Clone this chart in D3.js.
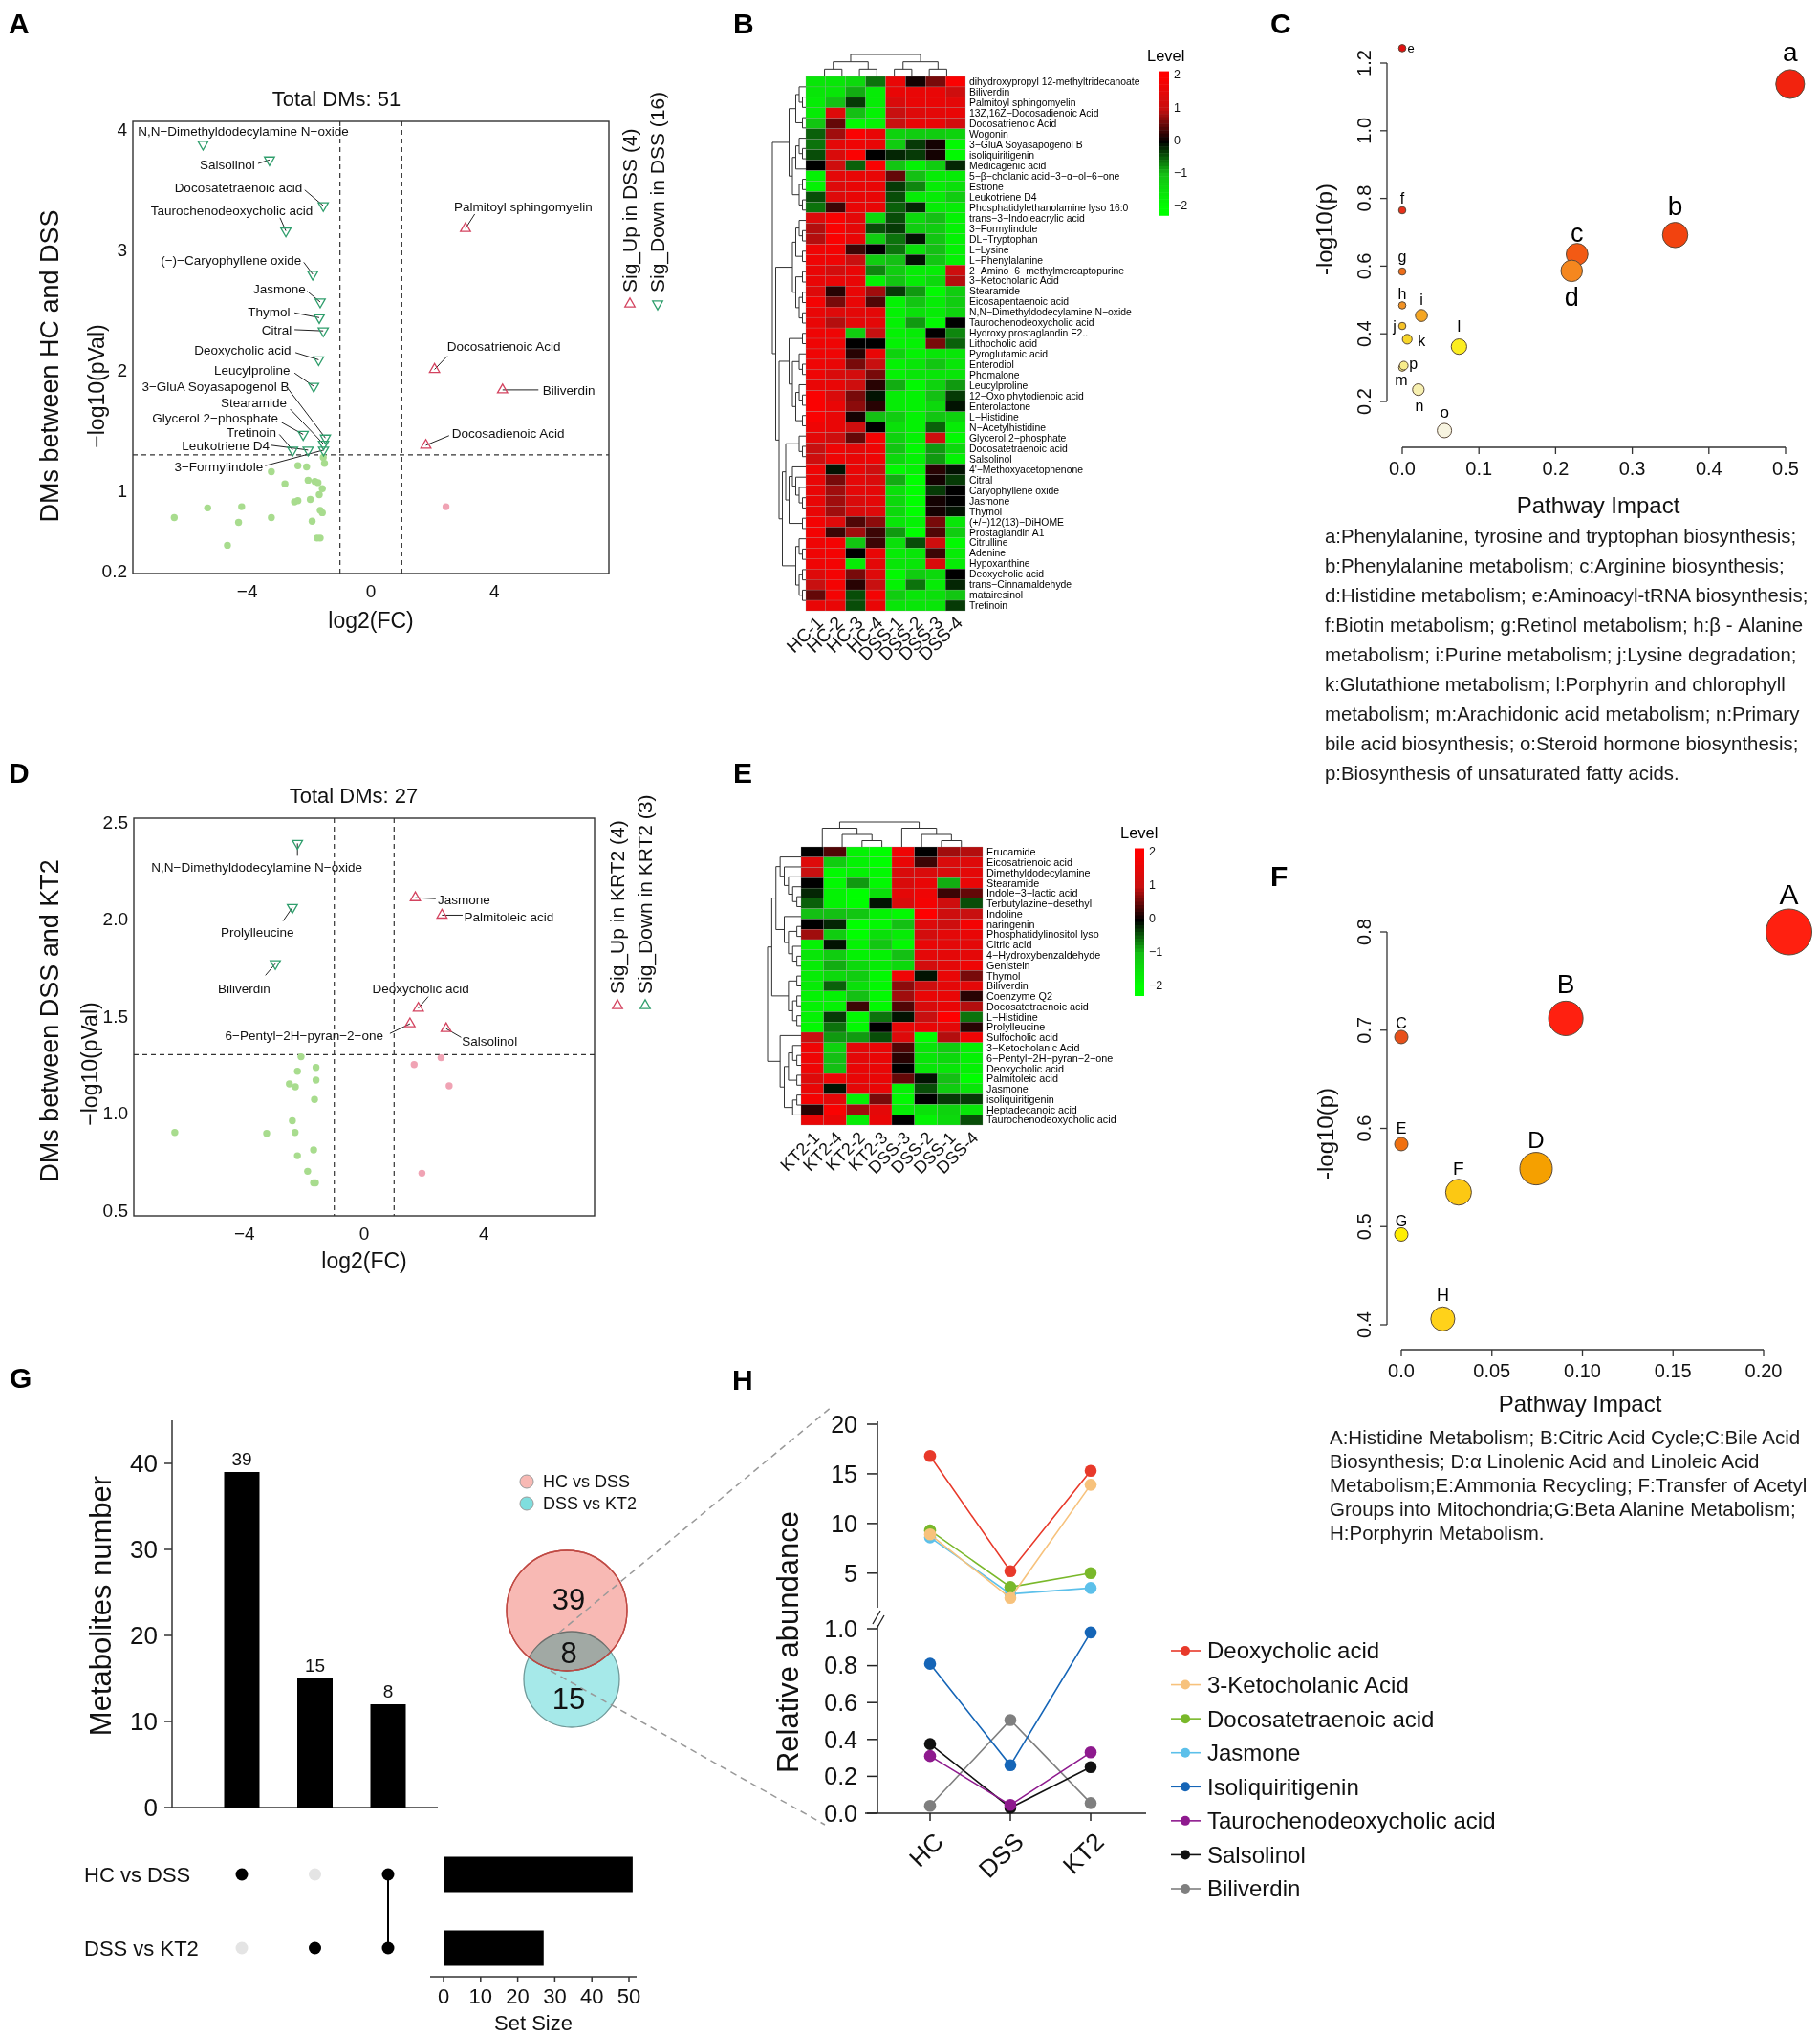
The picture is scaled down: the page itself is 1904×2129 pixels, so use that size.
<!DOCTYPE html>
<html><head><meta charset="utf-8">
<script src="https://cdn.jsdelivr.net/npm/d3@7"></script>
<style>body{margin:0;background:#fff}svg{display:block}text{font-family:Arial,"Liberation Sans",sans-serif}</style>
</head><body><svg id="fig" width="1904" height="2129"></svg>
<script>
// ================= DATA =================
// Panel A volcano (HC vs DSS)
const aDownNames = ["N,N−Dimethyldodecylamine N−oxide","Salsolinol","Docosatetraenoic acid","Taurochenodeoxycholic acid","(−)−Caryophyllene oxide","Jasmone","Thymol","Citral","Deoxycholic acid","Leucylproline","3−GluA Soyasapogenol B","Stearamide","Glycerol 2−phosphate","Tretinoin","Leukotriene D4","3−Formylindole"];
const aDownFC = [-5.43,-3.28,-1.54,-2.75,-1.88,-1.64,-1.67,-1.54,-1.69,-1.85,-1.47,-1.53,-2.19,-2.53,-2.03,-1.53];
const aDownP  = [3.88,3.75,3.37,3.16,2.80,2.57,2.44,2.33,2.09,1.87,1.44,1.39,1.47,1.34,1.34,1.34];
const aUpNames = ["Palmitoyl sphingomyelin","Docosatrienoic Acid","Biliverdin","Docosadienoic Acid"];
const aUpFC = [3.06,2.06,4.26,1.78];
const aUpP  = [3.18,2.01,1.84,1.38];
const aNsDownFC = [-1.54,-1.50,-2.36,-2.08,-3.22,-2.03,-1.81,-1.71,-1.57,-2.78,-1.67,-2.47,-2.36,-1.96,-5.28,-4.18,-6.36,-3.22,-1.64,-1.57,-4.28,-1.90,-4.64,-1.74,-1.64];
const aNsDownP  = [1.28,1.23,1.21,1.20,1.16,1.09,1.08,1.07,1.02,1.06,0.97,0.91,0.92,0.93,0.86,0.87,0.78,0.78,0.84,0.82,0.74,0.75,0.55,0.61,0.61];
const aNsUpFC = [2.43];
const aNsUpP  = [0.87];
const aYTicks = [0.34,1,2,3,4];
const aYTickLabels = ["0.2","1","2","3","4"];
// Panel D volcano (DSS vs KT2)
const dDownNames = ["N,N−Dimethyldodecylamine N−oxide","Prolylleucine","Biliverdin"];
const dDownFC = [-2.23,-2.40,-2.97];
const dDownP  = [2.39,2.06,1.77];
const dUpNames = ["Jasmone","Palmitoleic acid","Deoxycholic acid","6−Pentyl−2H−pyran−2−one","Salsolinol"];
const dUpFC = [1.71,2.60,1.81,1.53,2.74];
const dUpP  = [2.11,2.02,1.54,1.46,1.435];
const dNsDownFC = [-2.11,-1.61,-2.23,-1.61,-2.50,-2.30,-1.66,-2.40,-6.33,-3.26,-2.31,-1.69,-2.23,-1.89,-1.69,-1.63];
const dNsDownP  = [1.29,1.235,1.215,1.17,1.15,1.135,1.07,0.96,0.90,0.895,0.90,0.81,0.78,0.70,0.64,0.64];
const dNsUpFC = [1.67,2.57,2.84,1.93];
const dNsUpP  = [1.25,1.285,1.14,0.69];
const dYTicks = [0.5,1.0,1.5,2.0,2.5];
const dYTickLabels = ["0.5","1.0","1.5","2.0","2.5"];
const volcanoXTicks = [-4,0,4];
const fcCut = 1, pCut = 0.05;

// Panel B heatmap (HC vs DSS)
const bCols = ["HC-1","HC-2","HC-3","HC-4","DSS-1","DSS-2","DSS-3","DSS-4"];
const bRows = ["dihydroxypropyl 12-methyltridecanoate","Biliverdin","Palmitoyl sphingomyelin","13Z,16Z−Docosadienoic Acid","Docosatrienoic Acid","Wogonin","3−GluA Soyasapogenol B","isoliquiritigenin","Medicagenic acid","5−β−cholanic acid−3−α−ol−6−one","Estrone","Leukotriene D4","Phosphatidylethanolamine lyso 16:0","trans−3−Indoleacrylic acid","3−Formylindole","DL−Tryptophan","L−Lysine","L−Phenylalanine","2−Amino−6−methylmercaptopurine","3−Ketocholanic Acid","Stearamide","Eicosapentaenoic acid","N,N−Dimethyldodecylamine N−oxide","Taurochenodeoxycholic acid","Hydroxy prostaglandin F2..","Lithocholic acid","Pyroglutamic acid","Enterodiol","Phomalone","Leucylproline","12−Oxo phytodienoic acid","Enterolactone","L−Histidine","N−Acetylhistidine","Glycerol 2−phosphate","Docosatetraenoic acid","Salsolinol","4'−Methoxyacetophenone","Citral","Caryophyllene oxide","Jasmone","Thymol","(+/−)12(13)−DiHOME","Prostaglandin A1","Citrulline","Adenine","Hypoxanthine","Deoxycholic acid","trans−Cinnamaldehyde","matairesinol","Tretinoin"];
const bValues = [
[-1.6,-1.6,-1.4,-0.6,1.6,0.1,0.6,1.9],[-1.6,-1.6,-0.9,-1.7,1.6,1.6,1.6,1.1],[-1.7,-1.0,-0.3,-1.7,1.3,1.6,1.6,1.5],[-1.7,1.4,-1.0,-1.8,1.0,1.4,1.5,1.6],[-1.1,0.5,-1.9,-1.8,1.0,1.6,1.6,1.2],
[-0.5,0.8,1.9,1.6,-1.3,-1.2,-1.2,-1.3],[-0.6,1.5,1.7,1.6,-1.2,-0.3,0.1,-1.9],[-0.4,1.3,1.9,0.0,-0.2,-0.3,0.1,-1.9],[0.0,1.1,-0.5,1.9,-1.1,-1.8,-1.2,-0.2],[-1.8,1.5,1.6,1.6,0.5,-1.0,-1.7,-1.7],
[-1.8,1.4,1.6,1.6,-0.3,-0.7,-1.7,-1.5],[-0.4,1.4,1.6,1.6,-0.4,-1.7,-1.7,-1.2],[-0.6,0.3,1.6,1.6,-0.5,-0.2,-1.7,-1.7],[1.4,1.9,1.5,-1.4,-0.4,-1.4,-1.0,-1.8],[0.9,1.9,1.5,-0.4,-0.3,-1.2,-1.2,-1.8],
[0.9,1.9,1.6,-1.2,-0.6,-0.1,-1.1,-1.8],[1.7,1.8,0.3,0.0,-0.6,-1.5,-1.0,-1.8],[1.7,1.7,1.0,-1.2,-1.0,-0.1,-1.1,-1.8],[1.6,1.2,1.6,-0.7,-1.2,-1.7,-1.7,1.1],[1.6,1.6,1.6,-1.8,-1.1,-1.7,-1.4,0.9],
[1.4,0.2,1.6,0.8,-0.3,-0.8,-1.9,-1.2],[1.8,0.6,1.6,0.4,-1.8,-1.1,-1.7,-1.2],[1.6,1.4,1.5,1.5,-1.8,-1.5,-1.7,-1.3],[1.6,0.9,1.5,1.5,-1.8,-0.8,-1.9,0.0],[1.7,1.7,-1.2,1.0,-1.8,-1.7,0.0,-0.7],
[1.7,1.7,0.0,0.0,-1.8,-1.8,0.6,-0.5],[1.7,1.7,0.2,1.6,-1.3,-1.8,-1.6,-1.6],[1.7,1.6,0.6,1.0,-1.8,-1.6,-1.1,-1.6],[1.7,1.3,1.2,0.6,-1.8,-1.6,-1.6,-1.6],[1.6,1.6,1.1,0.2,-0.9,-1.9,-1.3,-0.8],
[1.9,1.3,0.6,-0.1,-1.7,-1.8,-1.0,-0.3],[1.9,1.6,0.7,0.2,-1.7,-1.8,-1.4,-0.1],[1.9,1.6,0.1,-1.0,-1.2,-1.8,-1.1,-1.3],[1.7,1.6,1.1,0.0,-1.5,-1.8,-0.5,-1.7],[1.5,1.1,0.5,1.8,-1.3,-1.8,1.1,-1.9],
[1.0,1.7,1.5,1.7,-1.1,-1.9,-0.8,-1.4],[1.1,1.7,1.6,1.7,-1.4,-1.8,-0.8,-1.8],[1.7,-0.1,1.6,1.1,-1.9,-1.8,0.2,-0.1],[1.6,0.6,1.5,1.3,-0.9,-2.0,0.1,-0.3],[1.6,0.8,1.5,1.5,-1.5,-2.0,-0.3,0.0],
[1.6,0.8,1.3,1.5,-1.4,-2.0,0.1,0.0],[1.6,0.8,1.3,1.4,-1.4,-2.0,0.1,-0.1],[1.8,1.4,0.4,0.7,-1.6,-1.8,0.6,-1.6],[1.8,0.3,0.8,0.3,-0.8,-2.0,0.4,-1.2],[1.7,1.8,-1.1,0.3,-1.5,-0.4,1.1,-1.9],
[1.7,1.8,0.0,1.6,-1.7,-1.6,0.3,-1.7],[1.7,1.8,-1.7,1.5,-1.6,-1.6,1.3,-1.7],[1.4,1.8,0.6,1.4,-1.9,-1.2,-1.4,0.0],[1.0,1.8,0.2,1.0,-1.8,-0.6,-1.7,-0.2],[0.5,1.8,-0.4,1.8,-1.2,-1.6,-1.5,-1.1],
[1.6,1.6,-0.4,1.6,-1.6,-1.6,-1.6,-0.3]];
const bRowTree = [[[[0,[1,2]],[3,4]],[[[5,[6,7]],8],[[9,10],[11,12]]]],[[[[13,[14,15]],[16,17]],[[18,19],[[20,21],[22,23]]]],[[[24,25],[[26,[27,28]],[[29,[30,31]],[32,33]]]],[[[34,[35,36]],[[37,[38,[39,[40,41]]]],[42,43]]],[[44,[45,46]],[[47,48],[49,50]]]]]]];
const bColTree = [[[0,1],[2,3]],[[4,5],[6,7]]];

// Panel E heatmap (DSS vs KT2)
const eCols = ["KT2-1","KT2-4","KT2-2","KT2-3","DSS-3","DSS-2","DSS-1","DSS-4"];
const eRows = ["Erucamide","Eicosatrienoic acid","Dimethyldodecylamine","Stearamide","Indole−3−lactic acid","Terbutylazine−desethyl","Indoline","naringenin","Phosphatidylinositol lyso","Citric acid","4−Hydroxybenzaldehyde","Genistein","Thymol","Biliverdin","Coenzyme Q2","Docosatetraenoic acid","L−Histidine","Prolylleucine","Sulfocholic acid","3−Ketocholanic Acid","6−Pentyl−2H−pyran−2−one","Deoxycholic acid","Palmitoleic acid","Jasmone","isoliquiritigenin","Heptadecanoic acid","Taurochenodeoxycholic acid"];
const eValues = [
[0.0,0.4,-1.8,-2.0,1.7,0.0,0.8,0.9],[1.4,-1.2,-1.8,-2.0,1.6,0.3,1.3,1.4],[1.0,-1.9,-1.8,-1.9,1.3,1.3,1.3,1.5],[0.0,-1.9,-0.8,-1.9,1.3,1.6,-0.9,1.6],[-0.2,-1.8,-2.0,-1.5,1.5,1.7,0.3,0.5],
[-0.5,-1.8,-2.0,-0.1,1.3,1.8,1.1,-0.4],[-1.0,-1.0,-1.1,-1.8,-1.9,2.0,1.1,1.0],[0.0,-0.2,-2.0,-1.9,-1.0,1.4,1.1,1.8],[0.8,-1.2,-2.0,-1.5,-1.7,1.2,1.5,1.6],[-1.8,-0.1,-1.8,-1.1,-1.9,1.6,1.5,1.5],
[-1.6,-1.2,-1.8,-1.8,-1.0,1.5,1.5,1.5],[-1.7,-0.9,-1.4,-1.7,-1.4,1.2,1.5,1.7],[-1.7,-1.4,-1.2,-1.9,1.7,-0.1,1.6,0.6],[-1.7,-0.5,-1.5,-1.9,0.7,1.1,1.5,1.5],[-1.8,-1.8,-1.0,-1.9,0.8,1.6,1.6,0.2],
[-1.8,-1.8,0.3,-1.9,0.4,1.3,1.6,0.9],[-1.8,-0.3,-1.9,-0.6,-0.1,1.0,2.0,-0.6],[-1.9,-0.6,-1.9,0.0,1.6,1.6,1.5,0.2],[1.0,-0.8,-0.8,-0.4,1.4,-2.0,0.9,1.7],[1.7,-1.3,1.5,1.6,0.4,-1.6,-1.2,-1.8],
[1.7,-1.0,1.5,1.6,0.2,-1.6,-1.4,-1.8],[1.7,-1.0,1.6,1.6,0.0,-1.6,-1.6,-1.8],[1.4,1.7,1.6,1.6,0.5,-0.1,-1.0,-2.0],[1.6,-0.1,1.5,1.6,-1.8,-0.4,-1.2,-1.6],[1.8,1.5,-1.8,0.6,-1.9,0.0,-0.3,-0.3],
[0.2,1.9,0.8,1.5,-1.7,-1.5,-1.3,-1.6],[1.6,1.6,-1.7,1.6,0.0,-1.8,-1.4,-0.4]];
const eRowTree = [[[[0,[1,[2,[3,[4,5]]]]],[6,[[7,8],[9,[10,11]]]]],[[12,13],[[14,15],[16,17]]]],[18,[[[19,[20,21]],[22,23]],[[24,25],26]]]];
const eColTree = [[0,[1,[2,3]]],[4,[5,[6,7]]]];
const levelTicks = [2,1,0,-1,-2];

// Panel C pathway bubbles
const cNames = ["a","b","c","d","e","f","g","h","i","j","k","l","m","n","o","p"];
const cImpact = [0.506,0.356,0.228,0.221,0,0,0,0,0.025,0,0.0065,0.074,0,0.021,0.055,0.002];
const cLogP   = [1.138,0.692,0.635,0.586,1.244,0.765,0.584,0.484,0.454,0.423,0.384,0.362,0.300,0.235,0.114,0.306];
const cXTicks = [0,0.1,0.2,0.3,0.4,0.5];
const cYTicks = [0.2,0.4,0.6,0.8,1.0,1.2];
const cNotes = ["a:Phenylalanine, tyrosine and tryptophan biosynthesis;","b:Phenylalanine metabolism; c:Arginine biosynthesis;","d:Histidine metabolism; e:Aminoacyl-tRNA biosynthesis;","f:Biotin metabolism; g:Retinol metabolism; h:β - Alanine","metabolism; i:Purine metabolism; j:Lysine degradation;","k:Glutathione metabolism; l:Porphyrin and chlorophyll","metabolism; m:Arachidonic acid metabolism; n:Primary","bile acid biosynthesis; o:Steroid hormone biosynthesis;","p:Biosynthesis of unsaturated fatty acids."];

// Panel F pathway bubbles
const fNames = ["A","B","C","D","E","F","G","H"];
const fImpact = [0.214,0.0908,0,0.0744,0,0.0316,0,0.0229];
const fLogP   = [0.800,0.712,0.693,0.559,0.584,0.535,0.492,0.406];
const fXTicks = [0,0.05,0.10,0.15,0.20];
const fXTickLabels = ["0.0","0.05","0.10","0.15","0.20"];
const fYTicks = [0.4,0.5,0.6,0.7,0.8];
const fNotes = ["A:Histidine Metabolism; B:Citric Acid Cycle;C:Bile Acid","Biosynthesis; D:α Linolenic Acid and Linoleic Acid","Metabolism;E:Ammonia Recycling; F:Transfer of Acetyl","Groups into Mitochondria;G:Beta Alanine Metabolism;","H:Porphyrin Metabolism."];

// Panel G upset + venn
const gSets = ["HC vs DSS","DSS vs KT2"];
const gSetSizes = [51,27];
const gIntersectCounts = [39,15,12];
const gIntersectLabels = ["39","15","8"];
const gMembership = [[1,0],[0,1],[1,1]];
const gYTicks = [0,10,20,30,40];
const gSizeTicks = [0,10,20,30,40,50];
const vennCounts = ["39","8","15"];

// Panel H
const hGroups = ["HC","DSS","KT2"];
const hUpperNames = ["Deoxycholic acid","3-Ketocholanic Acid","Docosatetraenoic acid","Jasmone"];
const hUpperVals = [[16.8,5.2,15.3],[8.9,2.5,13.9],[9.3,3.6,5.0],[8.6,2.9,3.5]];
const hLowerNames = ["Isoliquiritigenin","Taurochenodeoxycholic acid","Salsolinol","Biliverdin"];
const hLowerVals = [[0.81,0.26,0.98],[0.31,0.045,0.33],[0.375,0.03,0.25],[0.04,0.505,0.055]];
const hUpperTicks = [5,10,15,20];
const hLowerTicks = [0,0.2,0.4,0.6,0.8,1.0];

// ================= LAYOUT / STYLE =================
const aDownLab = [[-7.54,3.99,"start",null,null],[-3.75,3.71,"end",-3.65,3.72],[-2.22,3.52,"end",-2.14,3.50],[-1.875,3.33,"end",-2.94,3.27],[-2.25,2.92,"end",-2.17,2.90],[-2.11,2.68,"end",-2.06,2.66],[-2.61,2.49,"end",-2.47,2.48],[-2.56,2.34,"end",-2.47,2.34],[-2.58,2.17,"end",-2.44,2.15],[-2.61,2.00,"end",-2.47,1.98],[-2.64,1.87,"end",-2.68,1.85],[-2.72,1.73,"end",-2.61,1.68],[-3.00,1.61,"end",-2.89,1.57],[-3.06,1.49,"end",-2.96,1.47],[-3.28,1.38,"end",-3.22,1.38],[-3.49,1.20,"end",-3.42,1.21]];
const aUpLab = [[2.69,3.36,"start",3.36,3.30],[2.47,2.20,"start",2.47,2.12],[5.56,1.84,"start",5.42,1.84],[2.62,1.48,"start",2.53,1.46]];
const dDownLab = [[-3.59,2.265,"middle",-2.23,2.326],[-3.57,1.93,"middle",-2.71,1.99],[-4.01,1.64,"middle",-3.30,1.71]];
const dUpLab = [[2.46,2.10,"start",2.39,2.105],[3.34,2.01,"start",3.29,2.02],[1.89,1.64,"middle",2.14,1.60],[0.64,1.40,"end",0.86,1.41],[3.27,1.37,"start",3.24,1.39]];
const cColors = ["#f2230e","#f2430f","#f35a14","#f5871e","#e31010","#e8301a","#ee6d1a","#f09124","#f5a623","#f6c226","#f8d629","#fcee21","#f7ec8a","#f7f0b0","#f7f4e0","#f7ec8a"];
const cLabOff = [[0,-34,28],[0,-31,28],[0,-22,27],[0,27,27],[9,0,13],[0,-13,16],[0,-16,16],[0,-12,16],[0,-17,16],[-8,0,16],[15,2,16],[0,-22,17],[-1,13,16],[1,17,16],[0,-19,17],[10,-2,16]];
const fColors = ["#ff2010","#ff2010","#e8501a","#f5a000","#f07010","#fcc813","#ffee00","#ffd21a"];
const fLabOff = [[0,-40,30],[0,-36,28],[0,-15,16],[0,-30,24],[0,-17,16],[0,-25,19],[0,-14,16],[0,-25,18]];
const hColors = ["#e8392a","#f7c27c","#79b82a","#5cc0ea","#1565b7","#8e1a8e","#111111","#7f7f7f"];

// ================= DRAWING =================
const svg = d3.select("#fig");
svg.append("rect").attr("width",1904).attr("height",2129).attr("fill","#fff");

function txt(g,x,y,s,o={}){
  const t=g.append("text").attr("x",x).attr("y",y).text(s)
    .attr("font-size",o.size||14).attr("fill",o.fill||"#111").attr("text-anchor",o.anchor||"start");
  if(o.weight) t.attr("font-weight",o.weight);
  if(o.dy) t.attr("dy",o.dy);
  if(o.rotate!=null) t.attr("transform",`rotate(${o.rotate},${x},${y})`);
  return t;
}
function ln(g,x1,y1,x2,y2,o={}){
  const l=g.append("line").attr("x1",x1).attr("y1",y1).attr("x2",x2).attr("y2",y2)
    .attr("stroke",o.stroke||"#222").attr("stroke-width",o.w||1);
  if(o.dash) l.attr("stroke-dasharray",o.dash);
  return l;
}
const minus = v => String(v).replace("-","−");

// panel letters
[["A",9,35],["B",767,35],["C",1329,35],["D",9,819],["E",767,819],["F",1329,927],["G",10,1452],["H",766,1454]]
  .forEach(p=>txt(svg,p[1],p[2],p[0],{size:30,weight:"bold",fill:"#000"}));

function volcano(c){
  const g=svg.append("g");
  const [x0,x1,y0,y1]=c.box;
  const x=d3.scaleLinear().domain([-7.7,7.7]).range([x0,x1]);
  const y=d3.scaleLinear().domain(c.yDomain).range([y1,y0]);
  g.append("rect").attr("x",x0).attr("y",y0).attr("width",x1-x0).attr("height",y1-y0).attr("fill","none").attr("stroke","#333").attr("stroke-width",1.4);
  [-fcCut,fcCut].forEach(v=>ln(g,x(v),y0,x(v),y1,{stroke:"#333",w:1.2,dash:"5,4"}));
  ln(g,x0,y(-Math.log10(pCut)),x1,y(-Math.log10(pCut)),{stroke:"#333",w:1.2,dash:"5,4"});
  volcanoXTicks.forEach(v=>txt(g,x(v),y1+25,minus(v),{size:19,anchor:"middle"}));
  c.yTicks.forEach((v,i)=>txt(g,x0-6,y(v),c.yTickLabels[i],{size:19,anchor:"end",dy:"0.35em"}));
  c.nsDownFC.forEach((v,i)=>g.append("circle").attr("cx",x(v)).attr("cy",y(c.nsDownP[i])).attr("r",3.7).attr("fill","#a8dc8e"));
  c.nsUpFC.forEach((v,i)=>g.append("circle").attr("cx",x(v)).attr("cy",y(c.nsUpP[i])).attr("r",3.7).attr("fill","#f0a3b4"));
  const tri=d3.symbol().type(d3.symbolTriangle).size(48);
  const drawLabels=(names,fc,p,lab)=>{
    names.forEach((n,i)=>{
      const L=lab[i];
      if(L[3]!=null) ln(g,x(L[3]),y(L[4]),x(fc[i]),y(p[i]),{stroke:"#222",w:1});
      txt(g,x(L[0]),y(L[1]),n,{size:13.5,anchor:L[2],dy:"0.35em"});
    });
  };
  drawLabels(c.downNames,c.downFC,c.downP,c.downLab);
  drawLabels(c.upNames,c.upFC,c.upP,c.upLab);
  c.downFC.forEach((v,i)=>g.append("path").attr("d",tri).attr("transform",`translate(${x(v)},${y(c.downP[i])}) rotate(180)`).attr("fill","none").attr("stroke","#2f9e6c").attr("stroke-width",1.3));
  c.upFC.forEach((v,i)=>g.append("path").attr("d",tri).attr("transform",`translate(${x(v)},${y(c.upP[i])})`).attr("fill","none").attr("stroke","#d3435f").attr("stroke-width",1.3));
  txt(g,c.titleX,y0-16,c.title,{size:22,anchor:"middle"});
  txt(g,c.ylab1[0],c.ylab1[1],c.ylab1[2],{size:27,anchor:"middle",dy:"0.35em",rotate:-90});
  txt(g,c.ylab2[0],c.ylab2[1],"−log10(pVal)",{size:23,anchor:"middle",dy:"0.35em",rotate:-90});
  txt(g,(x0+x1)/2,c.xlabY,"log2(FC)",{size:23,anchor:"middle"});
  c.legend.forEach(L=>{
    txt(g,L[0],c.legBottom,L[1],{size:21,dy:"0.35em",rotate:-90});
    g.append("path").attr("d",tri).attr("transform",`translate(${L[0]},${c.legBottom+12}) rotate(${L[3]})`).attr("fill","none").attr("stroke",L[2]).attr("stroke-width",1.3);
  });
}
volcano({box:[139,637,127,600],yDomain:[0.315,4.07],yTicks:aYTicks,yTickLabels:aYTickLabels,
  downNames:aDownNames,downFC:aDownFC,downP:aDownP,downLab:aDownLab,upNames:aUpNames,upFC:aUpFC,upP:aUpP,upLab:aUpLab,
  nsDownFC:aNsDownFC,nsDownP:aNsDownP,nsUpFC:aNsUpFC,nsUpP:aNsUpP,title:"Total DMs: 51",titleX:352,
  ylab1:[52,383,"DMs between HC and DSS"],ylab2:[101,404],xlabY:657,
  legBottom:306,legend:[[659,"Sig_Up  in DSS (4)","#d3435f",0],[688,"Sig_Down in DSS (16)","#2f9e6c",180]]});
volcano({box:[140,622,856,1272],yDomain:[0.47,2.52],yTicks:dYTicks,yTickLabels:dYTickLabels,
  downNames:dDownNames,downFC:dDownFC,downP:dDownP,downLab:dDownLab,upNames:dUpNames,upFC:dUpFC,upP:dUpP,upLab:dUpLab,
  nsDownFC:dNsDownFC,nsDownP:dNsDownP,nsUpFC:dNsUpFC,nsUpP:dNsUpP,title:"Total DMs: 27",titleX:370,
  ylab1:[52,1068,"DMs between DSS and KT2"],ylab2:[94,1113],xlabY:1327,
  legBottom:1040,legend:[[646,"Sig_Up in KRT2 (4)","#d3435f",0],[675,"Sig_Down  in KRT2 (3)","#2f9e6c",0]]});

// ---------- heatmaps ----------
const heatColor=d3.scaleLinear().domain([-2,-1,0,1,2]).range(["#00ff00","#14c014","#000000","#c81010","#ff0000"]).clamp(true);
function dendro(g,tree,orient,start,cell,base,len){
  const root=d3.hierarchy(tree,d=>Array.isArray(d)?d:null);
  const n=root.leaves().length;
  d3.cluster().separation(()=>1).size([(n-1)*cell,len])(root);
  const P=d=>start+d.x, D=d=>base-len+d.y;
  root.descendants().forEach(nd=>{
    if(!nd.children) return;
    const ps=nd.children.map(P), lo=d3.min(ps), hi=d3.max(ps);
    if(orient==="row"){
      ln(g,D(nd),lo,D(nd),hi,{stroke:"#333",w:1});
      nd.children.forEach(ch=>ln(g,D(nd),P(ch),D(ch),P(ch),{stroke:"#333",w:1}));
    } else {
      ln(g,lo,D(nd),hi,D(nd),{stroke:"#333",w:1});
      nd.children.forEach(ch=>ln(g,P(ch),D(nd),P(ch),D(ch),{stroke:"#333",w:1}));
    }
  });
}
function heatmap(c){
  const g=svg.append("g");
  const nR=c.rows.length,nC=c.cols.length;
  const cw=(c.x1-c.x0)/nC, ch=(c.y1-c.y0)/nR;
  c.values.forEach((row,i)=>row.forEach((v,j)=>{
    g.append("rect").attr("x",c.x0+j*cw).attr("y",c.y0+i*ch).attr("width",cw).attr("height",ch)
      .attr("fill",heatColor(v)).attr("stroke","#9a9a9a").attr("stroke-width",0.25);
  }));
  c.rows.forEach((n,i)=>txt(g,c.x1+4,c.y0+(i+0.5)*ch,n,{size:c.rowFont,dy:"0.36em",fill:"#000"}));
  c.cols.forEach((n,j)=>{
    const cx=c.x0+(j+0.5)*cw;
    g.append("text").attr("transform",`translate(${cx+c.colDx},${c.y1+c.colDy}) rotate(-45)`)
      .attr("text-anchor","end").attr("dy","0.35em").attr("font-size",c.colFont).attr("fill","#111").text(n);
  });
  dendro(g,c.rowTree,"row",c.y0+ch/2,ch,c.x0,c.rowDend);
  dendro(g,c.colTree,"col",c.x0+cw/2,cw,c.y0,c.colDend);
  const ly=d3.scaleLinear().domain([2,-2]).range([c.leg.y2,c.leg.ym2]);
  d3.range(2.1,-2.25,-0.1).forEach(v=>g.append("rect").attr("x",c.leg.x).attr("y",ly(v)).attr("width",10).attr("height",Math.abs(ly(v-0.1)-ly(v))+0.5).attr("fill",heatColor(v)));
  levelTicks.forEach(v=>txt(g,c.leg.x+15,ly(v),minus(v),{size:12.5,dy:"0.35em"}));
  txt(g,c.leg.tx,c.leg.ty,"Level",{size:16.5,fill:"#000"});
}
heatmap({x0:843,x1:1010,y0:80,y1:639,rows:bRows,cols:bCols,values:bValues,rowTree:bRowTree,colTree:bColTree,
  rowFont:10.4,colFont:19,colDx:4,colDy:9,rowDend:35,colDend:23,leg:{x:1213,y2:78,ym2:215,tx:1200,ty:64}});
heatmap({x0:838,x1:1028,y0:886,y1:1177,rows:eRows,cols:eCols,values:eValues,rowTree:eRowTree,colTree:eColTree,
  rowFont:10.8,colFont:18,colDx:4,colDy:10,rowDend:35,colDend:26,leg:{x:1187,y2:891,ym2:1031,tx:1172,ty:877}});

// ---------- bubble plots ----------
function bubble(c){
  const g=svg.append("g");
  const x=d3.scaleLinear().domain(c.xDom).range(c.xRange);
  const y=d3.scaleLinear().domain(c.yDom).range(c.yRange);
  const r=d3.scaleSqrt().domain(c.rDom).range(c.rRange);
  ln(g,c.yAxisX,y(d3.min(c.yTicks)),c.yAxisX,y(d3.max(c.yTicks)),{stroke:"#333",w:1.3});
  c.yTicks.forEach(v=>{ln(g,c.yAxisX-7,y(v),c.yAxisX,y(v),{stroke:"#333",w:1.3});
    txt(g,c.yAxisX-24,y(v),d3.format(".1f")(v),{size:20,anchor:"middle",dy:"0.35em",rotate:-90});});
  ln(g,x(d3.min(c.xTicks)),c.xAxisY,x(d3.max(c.xTicks)),c.xAxisY,{stroke:"#333",w:1.3});
  c.xTicks.forEach((v,i)=>{ln(g,x(v),c.xAxisY,x(v),c.xAxisY+7,{stroke:"#333",w:1.3});
    txt(g,x(v),c.xAxisY+29,c.xTickLabels[i],{size:20,anchor:"middle"});});
  c.impact.forEach((v,i)=>{
    g.append("circle").attr("cx",x(v)).attr("cy",y(c.logp[i])).attr("r",r(v)).attr("fill",c.colors[i]).attr("stroke","#5a4a3a").attr("stroke-width",1);
  });
  c.names.forEach((n,i)=>{const o=c.labOff[i];
    txt(g,x(c.impact[i])+o[0],y(c.logp[i])+o[1],n,{size:o[2],anchor:"middle",dy:"0.35em",fill:"#000"});});
  txt(g,c.ylab[0],c.ylab[1],"-log10(p)",{size:24,anchor:"middle",dy:"0.35em",rotate:-90});
  txt(g,c.xlab[0],c.xlab[1],"Pathway Impact",{size:24,anchor:"middle"});
  c.notes.forEach((s,i)=>txt(g,c.notePos[0],c.notePos[1]+i*c.notePos[2],s,{size:c.notePos[3],fill:"#1a1a1a"}));
}
bubble({xDom:[0,0.5],xRange:[1467,1868],yDom:[0.2,1.2],yRange:[420,66],rDom:[0,0.5],rRange:[3.8,15],
  yAxisX:1451,xAxisY:468,xTicks:cXTicks,xTickLabels:cXTicks.map(d3.format(".1f")),yTicks:cYTicks,
  impact:cImpact,logp:cLogP,names:cNames,colors:cColors,labOff:cLabOff,ylab:[1386,240],xlab:[1672,537],
  notes:cNotes,notePos:[1386,568,31,20.4]});
bubble({xDom:[0,0.2],xRange:[1466,1845],yDom:[0.4,0.8],yRange:[1386,975],rDom:[0,0.214],rRange:[7,24],
  yAxisX:1451,xAxisY:1412,xTicks:fXTicks,xTickLabels:fXTickLabels,yTicks:fYTicks,
  impact:fImpact,logp:fLogP,names:fNames,colors:fColors,labOff:fLabOff,ylab:[1387,1186],xlab:[1653,1477],
  notes:fNotes,notePos:[1391,1511,25,20.5]});

// ---------- panel G ----------
(function(){
  const g=svg.append("g");
  const y=d3.scaleLinear().domain([0,45]).range([1891,1486]);
  const x=d3.scalePoint().domain(d3.range(gIntersectCounts.length)).range([253,406]);
  ln(g,180,1486,180,1891,{stroke:"#333",w:1.5});
  ln(g,180,1891,458,1891,{stroke:"#333",w:1.5});
  gYTicks.forEach(v=>{ln(g,172,y(v),180,y(v),{stroke:"#333",w:1.5});txt(g,165,y(v),v,{size:26,anchor:"end",dy:"0.35em"});});
  gIntersectCounts.forEach((v,i)=>{
    g.append("rect").attr("x",x(i)-18.5).attr("y",y(v)).attr("width",37).attr("height",y(0)-y(v)).attr("fill","#000");
    txt(g,x(i),y(v)-7,gIntersectLabels[i],{size:19,anchor:"middle"});
  });
  txt(g,105,1680,"Metabolites number",{size:31,anchor:"middle",dy:"0.35em",rotate:-90});
  const ry=d3.scalePoint().domain(gSets).range([1961,2038]);
  gSets.forEach(s=>txt(g,88,ry(s),s,{size:22,dy:"0.35em"}));
  gMembership.forEach((m,i)=>{
    const act=gSets.filter((s,k)=>m[k]);
    if(act.length>1) ln(g,x(i),ry(act[0]),x(i),ry(act[act.length-1]),{stroke:"#000",w:2});
    gSets.forEach((s,k)=>g.append("circle").attr("cx",x(i)).attr("cy",ry(s)).attr("r",6.5).attr("fill",m[k]?"#000":"#e4e4e4"));
  });
  const sx=d3.scaleLinear().domain([0,50]).range([464,658]);
  gSetSizes.forEach((v,k)=>g.append("rect").attr("x",sx(0)).attr("y",ry(gSets[k])-18.5).attr("width",sx(v)-sx(0)).attr("height",37).attr("fill","#000"));
  ln(g,450,2068,666,2068,{stroke:"#333",w:1.5});
  gSizeTicks.forEach(v=>{ln(g,sx(v),2068,sx(v),2074,{stroke:"#333",w:1.5});txt(g,sx(v),2096,v,{size:22,anchor:"middle"});});
  txt(g,558,2124,"Set Size",{size:22,anchor:"middle"});
  // venn
  g.append("circle").attr("cx",593).attr("cy",1685).attr("r",63).attr("fill","#f8b9b4").attr("stroke","#c04a44").attr("stroke-width",1.3);
  g.append("circle").attr("cx",598).attr("cy",1757).attr("r",50).attr("fill","#a6e9e9").attr("stroke","#6f9a9a").attr("stroke-width",1.3).style("mix-blend-mode","multiply");
  g.append("circle").attr("cx",593).attr("cy",1685).attr("r",63).attr("fill","none").attr("stroke","#c04a44").attr("stroke-width",1.3);
  txt(g,595,1673,vennCounts[0],{size:31,anchor:"middle",dy:"0.35em"});
  txt(g,595,1729,vennCounts[1],{size:31,anchor:"middle",dy:"0.35em"});
  txt(g,595,1777,vennCounts[2],{size:31,anchor:"middle",dy:"0.35em"});
  g.append("circle").attr("cx",551).attr("cy",1550).attr("r",7).attr("fill","#f8b9b4").attr("stroke","#999");
  g.append("circle").attr("cx",551).attr("cy",1573).attr("r",7).attr("fill","#7fdede").attr("stroke","#999");
  txt(g,568,1550,gSets[0],{size:18,dy:"0.35em"});
  txt(g,568,1573,gSets[1],{size:18,dy:"0.35em"});
  ln(g,585,1708,870,1472,{stroke:"#999",w:1.5,dash:"7,5"});
  ln(g,576,1748,863,1909,{stroke:"#999",w:1.5,dash:"7,5"});
})();

// ---------- panel H ----------
(function(){
  const g=svg.append("g");
  const x=d3.scalePoint().domain(hGroups).range([973,1141]);
  const yU=d3.scaleLinear().domain([1.9,20]).range([1678,1490]);
  const yL=d3.scaleLinear().domain([0,1]).range([1897,1704]);
  const ax=918;
  ln(g,ax,1487,ax,1682,{stroke:"#222",w:1.5});
  ln(g,ax,1700,ax,1897,{stroke:"#222",w:1.5});
  ln(g,905,1897,1199,1897,{stroke:"#222",w:1.5});
  ln(g,913,1699,921,1685,{stroke:"#222",w:1.3});ln(g,917,1704,925,1690,{stroke:"#222",w:1.3});
  hUpperTicks.forEach(v=>{ln(g,907,yU(v),ax,yU(v),{stroke:"#222",w:1.5});txt(g,897,yU(v),v,{size:25,anchor:"end",dy:"0.35em"});});
  hLowerTicks.forEach(v=>{ln(g,907,yL(v),ax,yL(v),{stroke:"#222",w:1.5});txt(g,897,yL(v),d3.format(".1f")(v),{size:25,anchor:"end",dy:"0.35em"});});
  hGroups.forEach(s=>{ln(g,x(s),1897,x(s),1905,{stroke:"#222",w:1.5});
    g.append("text").attr("transform",`translate(${x(s)+9},${1922}) rotate(-45)`).attr("text-anchor","end").attr("dy","0.35em").attr("font-size",26).attr("fill","#111").text(s);});
  const draw=(vals,ys,off)=>{
    for(let k=vals.length-1;k>=0;k--){
      const vs=vals[k], col=hColors[k+off];
      g.append("path").attr("d",d3.line().x((d,i)=>x(hGroups[i])).y(d=>ys(d))(vs)).attr("fill","none").attr("stroke",col).attr("stroke-width",1.6);
      vs.forEach((v,i)=>g.append("circle").attr("cx",x(hGroups[i])).attr("cy",ys(v)).attr("r",6.3).attr("fill",col));
    }
  };
  draw(hUpperVals,yU,0);
  draw(hLowerVals,yL,hUpperVals.length);
  const allNames=hUpperNames.concat(hLowerNames);
  const ly=d3.scalePoint().domain(allNames).range([1727,1976]);
  allNames.forEach((n,i)=>{
    ln(g,1225,ly(n),1256,ly(n),{stroke:hColors[i],w:1.6});
    g.append("circle").attr("cx",1240).attr("cy",ly(n)).attr("r",5).attr("fill",hColors[i]);
    txt(g,1263,ly(n),n,{size:24,dy:"0.35em"});
  });
  txt(g,824,1718,"Relative abundance",{size:31,anchor:"middle",dy:"0.35em",rotate:-90});
})();
</script></body></html>
